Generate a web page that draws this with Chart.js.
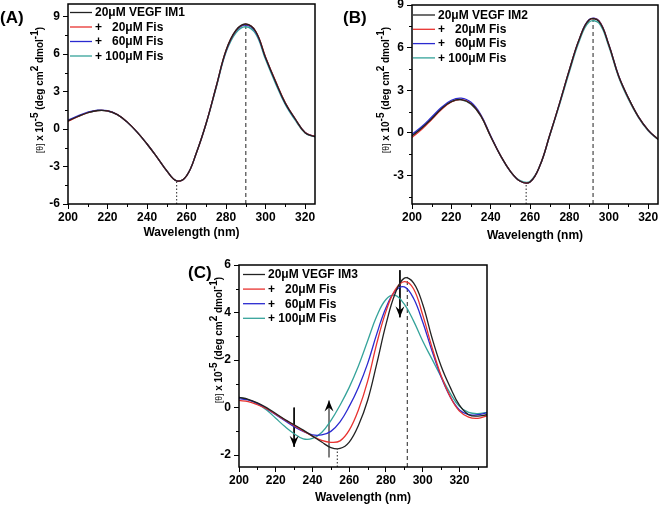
<!DOCTYPE html>
<html>
<head>
<meta charset="utf-8">
<script src="https://cdn.jsdelivr.net/npm/chart.js@4.4.0/dist/chart.umd.min.js"></script>
<style>
  body { margin: 0; background: #fff; }
  #wrap { position: relative; width: 660px; height: 505px; }
  canvas { position: absolute; }
</style>
</head>
<body>
<div id="wrap">
  <canvas id="chartA" width="330" height="250" style="left:0;top:0"></canvas>
  <canvas id="chartB" width="330" height="250" style="left:330px;top:0"></canvas>
  <canvas id="chartC" width="340" height="255" style="left:170px;top:250px"></canvas>
</div>
<script>
// wavelengths (nm)
const wlAB = [200,205,210,215,220,225,230,235,240,245,250,255,260,265,270,275,280,285,290,295,300,305,310,315,320,325];
const wlC = [200,205,210,215,220,225,230,235,240,245,250,255,260,265,270,275,280,285,290,295,300,305,310,315,320,325,330,335];

// tick labels
const xTicks = [200,220,240,260,280,300,320];
const yTicksA = [-6,-3,0,3,6,9];
const yTicksB = [-3,0,3,6,9];
const yTicksC = [-2,0,2,4,6];

const labelsA = ['20\u03bcM VEGF IM1', '+   20\u03bcM Fis', '+   60\u03bcM Fis', '+ 100\u03bcM Fis'];
const labelsB = ['20\u03bcM VEGF IM2', '+   20\u03bcM Fis', '+   60\u03bcM Fis', '+ 100\u03bcM Fis'];
const labelsC = ['20\u03bcM VEGF IM3', '+   20\u03bcM Fis', '+   60\u03bcM Fis', '+ 100\u03bcM Fis'];
const colors = ['#222222', '#e8322f', '#2a2ad0', '#35a39a'];

// panel A
const a1 = [0.65,1.0,1.3,1.48,1.45,1.15,0.55,-0.25,-1.2,-2.25,-3.35,-4.15,-3.75,-1.9,0.5,3.4,6.3,7.9,8.4,7.8,5.7,3.8,2.05,0.8,-0.3,-0.62];
const a2 = [0.62,0.98,1.3,1.47,1.45,1.15,0.55,-0.25,-1.2,-2.25,-3.35,-4.15,-3.75,-1.9,0.5,3.4,6.3,7.88,8.38,7.82,5.75,3.85,2.1,0.82,-0.28,-0.6];
const a3 = [0.7,1.05,1.35,1.5,1.46,1.15,0.55,-0.25,-1.2,-2.25,-3.35,-4.15,-3.75,-1.9,0.5,3.4,6.25,7.85,8.32,7.75,5.7,3.8,2.05,0.8,-0.28,-0.6];
const a4 = [0.65,1.0,1.3,1.47,1.44,1.14,0.54,-0.26,-1.2,-2.25,-3.34,-4.14,-3.74,-1.9,0.45,3.3,6.15,7.7,8.18,7.6,5.55,3.65,1.95,0.7,-0.32,-0.64];

// panel B
const b1 = [-0.2,0.35,1.0,1.7,2.2,2.35,2.05,1.2,-0.25,-1.6,-2.7,-3.4,-3.45,-2.3,-0.15,2.1,4.45,6.6,7.95,7.85,6.2,4.0,2.45,1.15,0.2,-0.45];
const b2 = [-0.32,0.25,0.95,1.65,2.18,2.35,2.05,1.2,-0.25,-1.6,-2.7,-3.4,-3.45,-2.3,-0.15,2.1,4.45,6.6,7.95,7.88,6.2,4.0,2.45,1.15,0.2,-0.45];
const b3 = [-0.1,0.45,1.12,1.8,2.3,2.45,2.15,1.28,-0.2,-1.6,-2.7,-3.4,-3.45,-2.3,-0.15,2.1,4.45,6.6,7.98,7.9,6.22,4.02,2.45,1.15,0.2,-0.45];
const b4 = [-0.2,0.35,1.0,1.7,2.2,2.32,2.02,1.18,-0.27,-1.62,-2.72,-3.36,-3.4,-2.3,-0.2,2.0,4.3,6.45,7.8,7.72,6.08,3.92,2.35,1.1,0.15,-0.47];

// panel C
const c1 = [0.43,0.35,0.2,0.0,-0.25,-0.5,-0.72,-0.95,-1.2,-1.45,-1.68,-1.72,-1.45,-0.75,0.3,1.85,3.5,4.8,5.45,5.25,4.35,2.95,1.75,0.85,0.1,-0.3,-0.36,-0.3];
const c2 = [0.3,0.25,0.12,-0.05,-0.28,-0.52,-0.75,-0.98,-1.2,-1.38,-1.46,-1.4,-0.95,-0.1,1.1,2.7,4.05,4.95,5.3,5.0,3.9,2.55,1.35,0.45,-0.15,-0.4,-0.45,-0.35];
const c3 = [0.38,0.32,0.18,-0.05,-0.3,-0.55,-0.8,-1.0,-1.15,-1.15,-1.0,-0.6,0.05,0.85,1.85,3.1,4.2,4.9,5.08,4.6,3.6,2.4,1.3,0.45,-0.1,-0.3,-0.3,-0.22];
const c4 = [0.43,0.33,0.15,-0.1,-0.45,-0.8,-1.1,-1.32,-1.3,-1.05,-0.55,0.1,0.85,1.75,2.8,3.85,4.55,4.72,4.35,3.65,2.8,2.05,1.3,0.6,0.05,-0.2,-0.25,-0.2];

// guide lines: [wavelength, value, style]
const marksA = [[255, -4.15, 'dot'], [290, 8.4, 'dash']];
const marksB = [[258, -3.5, 'dot'], [292, 8.0, 'dash']];
const marksC = [[253.5, -1.74, 'dot'], [291.6, 5.5, 'dash']];
// arrows: [wavelength, from, to]
const arrowsC = [[230, 0.0, -1.65], [249, -2.1, 0.3], [287.6, 5.78, 3.8]];

Chart.defaults.font.family = "'Liberation Sans', Arial, sans-serif";
Chart.defaults.color = '#000';

function drawYTitle(ctx, x, yc, s) {
  const parts = [
    ['[\u03b8]', `normal ${s - 1.5}px 'Liberation Sans'`, 0],
    [' x 10', `bold ${s}px 'Liberation Sans'`, 0],
    ['-5', `bold ${s}px 'Liberation Sans'`, s * 0.5],
    [' (deg cm', `bold ${s}px 'Liberation Sans'`, 0],
    ['2', `bold ${s}px 'Liberation Sans'`, s * 0.5],
    [' dmol', `bold ${s}px 'Liberation Sans'`, 0],
    ['-1', `bold ${s}px 'Liberation Sans'`, s * 0.5],
    [')', `bold ${s}px 'Liberation Sans'`, 0]
  ];
  ctx.save();
  ctx.translate(x, yc);
  ctx.rotate(-Math.PI / 2);
  ctx.fillStyle = '#000';
  ctx.textBaseline = 'alphabetic';
  let total = 0;
  parts.forEach(p => { ctx.font = p[1]; total += ctx.measureText(p[0]).width; });
  let cx = -total / 2;
  parts.forEach(p => {
    ctx.font = p[1];
    ctx.fillText(p[0], cx, -p[2]);
    cx += ctx.measureText(p[0]).width;
  });
  ctx.restore();
}

const decor = {
  id: 'decor',
  afterDatasetsDraw(chart, args, o) {
    const ctx = chart.ctx, a = chart.chartArea, x = chart.scales.x, y = chart.scales.y;
    ctx.save();
    // arrow heads
    chart.data.datasets.forEach((ds, i) => {
      if (!ds.arrow) return;
      const pts = chart.getDatasetMeta(i).data;
      const q = pts[0], p = pts[1];
      const dx = p.x - q.x, dy = p.y - q.y, L = Math.hypot(dx, dy);
      const ux = dx / L, uy = dy / L, nx = -uy, ny = ux;
      ctx.fillStyle = '#000';
      ctx.beginPath();
      ctx.moveTo(p.x, p.y);
      ctx.lineTo(p.x - ux * 11 + nx * 4.5, p.y - uy * 11 + ny * 4.5);
      ctx.lineTo(p.x - ux * 7, p.y - uy * 7);
      ctx.lineTo(p.x - ux * 11 - nx * 4.5, p.y - uy * 11 - ny * 4.5);
      ctx.closePath();
      ctx.fill();
    });
    // frame
    ctx.strokeStyle = '#000';
    ctx.lineWidth = 1.5;
    ctx.strokeRect(a.left, a.top, a.right - a.left, a.bottom - a.top);
    // minor ticks
    ctx.lineWidth = 1;
    ctx.beginPath();
    for (let v = 210; v < x.max; v += 20) {
      const px = Math.round(x.getPixelForValue(v)) + 0.5;
      ctx.moveTo(px, a.bottom); ctx.lineTo(px, a.bottom + 3);
    }
    for (let v = Math.ceil(y.min / o.minor) * o.minor; v < y.max; v += o.minor) {
      const r = v / o.major;
      if (Math.abs(r - Math.round(r)) < 1e-6) continue;
      const py = Math.round(y.getPixelForValue(v)) + 0.5;
      ctx.moveTo(a.left - 3, py); ctx.lineTo(a.left, py);
    }
    ctx.stroke();
    // legend
    const leg = chart.data.datasets.filter(d => !d.mark);
    leg.forEach((d, i) => {
      const ly = o.legend.y + i * o.legend.step;
      ctx.strokeStyle = d.borderColor;
      ctx.lineWidth = 1.3;
      ctx.beginPath();
      ctx.moveTo(o.legend.x, ly); ctx.lineTo(o.legend.x + 22, ly);
      ctx.stroke();
      ctx.fillStyle = '#000';
      ctx.font = "bold 12px 'Liberation Sans'";
      ctx.textBaseline = 'middle';
      ctx.fillText(d.label, o.legend.x + 25, ly + 0.5);
    });
    // y title and panel letter
    drawYTitle(ctx, o.title.x, o.title.y, o.title.size);
    ctx.font = "bold 17px 'Liberation Sans'";
    ctx.fillStyle = '#000';
    ctx.textBaseline = 'middle';
    ctx.fillText(o.letter.text, o.letter.x, o.letter.y);
    ctx.restore();
  }
};

function panel(id, wl, series, labels, marks, arrows, yTicks, opt) {
  const datasets = series.map((s, i) => ({
    label: labels[i],
    data: wl.map((w, j) => ({ x: w, y: s[j] })),
    borderColor: colors[i],
    borderWidth: 1.3,
    pointRadius: 0,
    tension: 0.4,
    fill: false
  }));
  marks.forEach(m => datasets.push({
    data: [{ x: m[0], y: opt.ymin }, { x: m[0], y: m[1] }],
    borderColor: '#222', borderWidth: 1,
    borderDash: m[2] === 'dot' ? [1.5, 2] : [4, 3],
    pointRadius: 0, mark: true
  }));
  arrows.forEach(m => datasets.push({
    data: [{ x: m[0], y: m[1] }, { x: m[0], y: m[2] }],
    borderColor: '#000', borderWidth: 1,
    pointRadius: 0, mark: true, arrow: true
  }));

  new Chart(document.getElementById(id), {
    type: 'line',
    data: { datasets: datasets },
    options: {
      responsive: false,
      animation: false,
      devicePixelRatio: 1,
      layout: { padding: { left: 0, right: opt.pr, top: opt.pt, bottom: opt.pb } },
      plugins: {
        legend: { display: false },
        tooltip: { enabled: false },
        decor: opt.decor
      },
      scales: {
        x: {
          type: 'linear', min: 200, max: opt.xmax,
          afterBuildTicks: s => { s.ticks = xTicks.map(v => ({ value: v })); },
          afterFit: s => { s.height = opt.hx; s.paddingLeft = 0; s.paddingRight = 0; },
          ticks: { autoSkip: false, maxRotation: 0, padding: 1, color: '#000', font: { size: 12, weight: 'bold' } },
          grid: { drawOnChartArea: false, tickLength: 5, color: '#000', lineWidth: 1 },
          border: { display: false },
          title: { display: true, text: 'Wavelength (nm)', padding: 0, color: '#000', font: { size: 12, weight: 'bold' } }
        },
        y: {
          min: opt.ymin, max: opt.ymax,
          afterBuildTicks: s => { s.ticks = yTicks.map(v => ({ value: v })); },
          afterFit: s => { s.width = opt.wy; s.paddingTop = 0; s.paddingBottom = 0; },
          ticks: { autoSkip: false, padding: 3, color: '#000', font: { size: 12, weight: 'bold' } },
          grid: { drawOnChartArea: false, tickLength: 5, color: '#000', lineWidth: 1 },
          border: { display: false }
        }
      }
    },
    plugins: [decor]
  });
}

panel('chartA', wlAB, [a1, a2, a3, a4], labelsA, marksA, [], yTicksA, {
  xmax: 325, ymin: -6, ymax: 10,
  wy: 68, hx: 36, pr: 15, pt: 4, pb: 10,
  decor: {
    major: 3, minor: 1.5,
    legend: { x: 70, y: 12.5, step: 14.5 },
    title: { x: 43, y: 90, size: 10 },
    letter: { text: '(A)', x: 0, y: 18 }
  }
});

panel('chartB', wlAB, [b1, b2, b3, b4], labelsB, marksB, [], yTicksB, {
  xmax: 325, ymin: -5, ymax: 9,
  wy: 82, hx: 39, pr: 2, pt: 5, pb: 7,
  decor: {
    major: 3, minor: 1.5,
    legend: { x: 83, y: 15, step: 14.3 },
    title: { x: 59, y: 90, size: 10 },
    letter: { text: '(B)', x: 13, y: 18 }
  }
});

panel('chartC', wlC, [c1, c2, c3, c4], labelsC, marksC, arrowsC, yTicksC, {
  xmax: 335, ymin: -2.5, ymax: 6,
  wy: 69, hx: 38, pr: 23, pt: 15, pb: 0,
  decor: {
    major: 2, minor: 1,
    legend: { x: 73, y: 24.5, step: 14.6 },
    title: { x: 52, y: 90, size: 10 },
    letter: { text: '(C)', x: 18, y: 23 }
  }
});
</script>
</body>
</html>
